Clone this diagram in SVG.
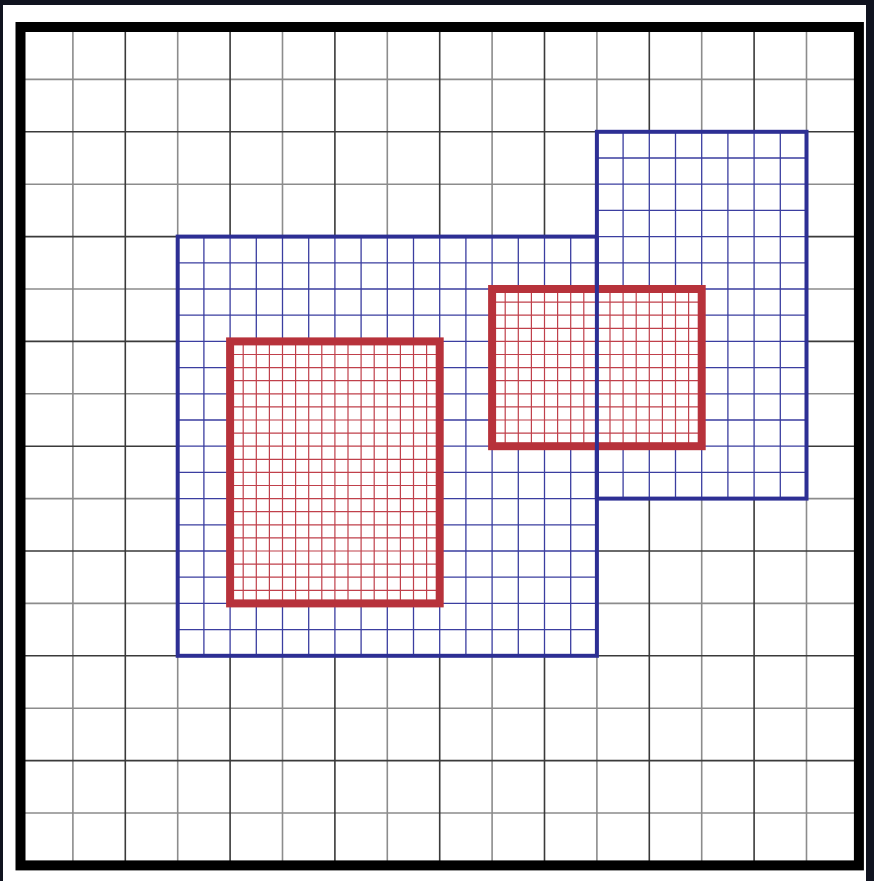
<svg xmlns="http://www.w3.org/2000/svg" width="874" height="881" viewBox="0 0 874 881">
<style>
.cd{stroke:#3a3a3a;stroke-width:1.6;fill:none}
.cl{stroke:#8c8c8c;stroke-width:1.6;fill:none}
.bf{stroke:#3b3ea0;stroke-width:1.3;fill:none}
.bb{stroke:#2d2f94;stroke-width:4;fill:none}
.rf{stroke:#c0404b;stroke-width:1.2;fill:none}
.rb{stroke:#b7323b;stroke-width:8;fill:none}
.wf{fill:#ffffff}
</style>
<rect x="0" y="0" width="874" height="881" fill="#10131f"/>
<rect x="3" y="5" width="863" height="876" fill="#ffffff"/>
<g id="coarse-grid">
<path class="cl" d="M72.9 27V865.4M177.7 27V865.4M282.5 27V865.4M387.3 27V865.4M492.1 27V865.4M596.9 27V865.4M701.7 27V865.4M806.5 27V865.4M20.5 79.4H858.9M20.5 184.2H858.9M20.5 289H858.9M20.5 393.8H858.9M20.5 498.6H858.9M20.5 603.4H858.9M20.5 708.2H858.9M20.5 813H858.9"/>
<path class="cd" d="M125.3 27V865.4M230.1 27V865.4M334.9 27V865.4M439.7 27V865.4M544.5 27V865.4M649.3 27V865.4M754.1 27V865.4M20.5 131.8H858.9M20.5 236.6H858.9M20.5 341.4H858.9M20.5 446.2H858.9M20.5 551H858.9M20.5 655.8H858.9M20.5 760.6H858.9"/>
</g>
<g id="blue-patch-1">
<rect class="wf" x="177.7" y="236.6" width="419.2" height="419.2"/>
<path class="bf" d="M203.9 236.6V655.8M230.1 236.6V655.8M256.3 236.6V655.8M282.5 236.6V655.8M308.7 236.6V655.8M334.9 236.6V655.8M361.1 236.6V655.8M387.3 236.6V655.8M413.5 236.6V655.8M439.7 236.6V655.8M465.9 236.6V655.8M492.1 236.6V655.8M518.3 236.6V655.8M544.5 236.6V655.8M570.7 236.6V655.8M177.7 262.8H596.9M177.7 289H596.9M177.7 315.2H596.9M177.7 341.4H596.9M177.7 367.6H596.9M177.7 393.8H596.9M177.7 420H596.9M177.7 446.2H596.9M177.7 472.4H596.9M177.7 498.6H596.9M177.7 524.8H596.9M177.7 551H596.9M177.7 577.2H596.9M177.7 603.4H596.9M177.7 629.6H596.9"/>
<rect class="bb" x="177.7" y="236.6" width="419.2" height="419.2"/>
</g>
<g id="blue-patch-2">
<rect class="wf" x="596.9" y="131.8" width="209.6" height="366.8"/>
<path class="bf" d="M623.1 131.8V498.6M649.3 131.8V498.6M675.5 131.8V498.6M701.7 131.8V498.6M727.9 131.8V498.6M754.1 131.8V498.6M780.3 131.8V498.6M596.9 158H806.5M596.9 184.2H806.5M596.9 210.4H806.5M596.9 236.6H806.5M596.9 262.8H806.5M596.9 289H806.5M596.9 315.2H806.5M596.9 341.4H806.5M596.9 367.6H806.5M596.9 393.8H806.5M596.9 420H806.5M596.9 446.2H806.5M596.9 472.4H806.5"/>
<rect class="bb" x="596.9" y="131.8" width="209.6" height="366.8"/>
</g>
<g id="red-patch-1">
<rect class="wf" x="230.1" y="341.4" width="209.6" height="262"/>
<path class="rf" d="M243.2 341.4V603.4M256.3 341.4V603.4M269.4 341.4V603.4M282.5 341.4V603.4M295.6 341.4V603.4M308.7 341.4V603.4M321.8 341.4V603.4M334.9 341.4V603.4M348 341.4V603.4M361.1 341.4V603.4M374.2 341.4V603.4M387.3 341.4V603.4M400.4 341.4V603.4M413.5 341.4V603.4M426.6 341.4V603.4M230.1 354.5H439.7M230.1 367.6H439.7M230.1 380.7H439.7M230.1 393.8H439.7M230.1 406.9H439.7M230.1 420H439.7M230.1 433.1H439.7M230.1 446.2H439.7M230.1 459.3H439.7M230.1 472.4H439.7M230.1 485.5H439.7M230.1 498.6H439.7M230.1 511.7H439.7M230.1 524.8H439.7M230.1 537.9H439.7M230.1 551H439.7M230.1 564.1H439.7M230.1 577.2H439.7M230.1 590.3H439.7"/>
<rect class="rb" x="230.1" y="341.4" width="209.6" height="262"/>
</g>
<g id="red-patch-2">
<rect class="wf" x="492.1" y="289" width="209.6" height="157.2"/>
<path class="rf" d="M505.2 289V446.2M518.3 289V446.2M531.4 289V446.2M544.5 289V446.2M557.6 289V446.2M570.7 289V446.2M583.8 289V446.2M596.9 289V446.2M610 289V446.2M623.1 289V446.2M636.2 289V446.2M649.3 289V446.2M662.4 289V446.2M675.5 289V446.2M688.6 289V446.2M492.1 302.1H701.7M492.1 315.2H701.7M492.1 328.3H701.7M492.1 341.4H701.7M492.1 354.5H701.7M492.1 367.6H701.7M492.1 380.7H701.7M492.1 393.8H701.7M492.1 406.9H701.7M492.1 420H701.7M492.1 433.1H701.7"/>
<rect class="rb" x="492.1" y="289" width="209.6" height="157.2"/>
</g>
<g id="patch-boundary">
<path class="bb" d="M596.9 236.6V498.6"/>
</g>
<g id="domain-frame">
<rect x="20.5" y="27" width="838.4" height="838.4" fill="none" stroke="#000" stroke-width="10"/>
</g>
</svg>
